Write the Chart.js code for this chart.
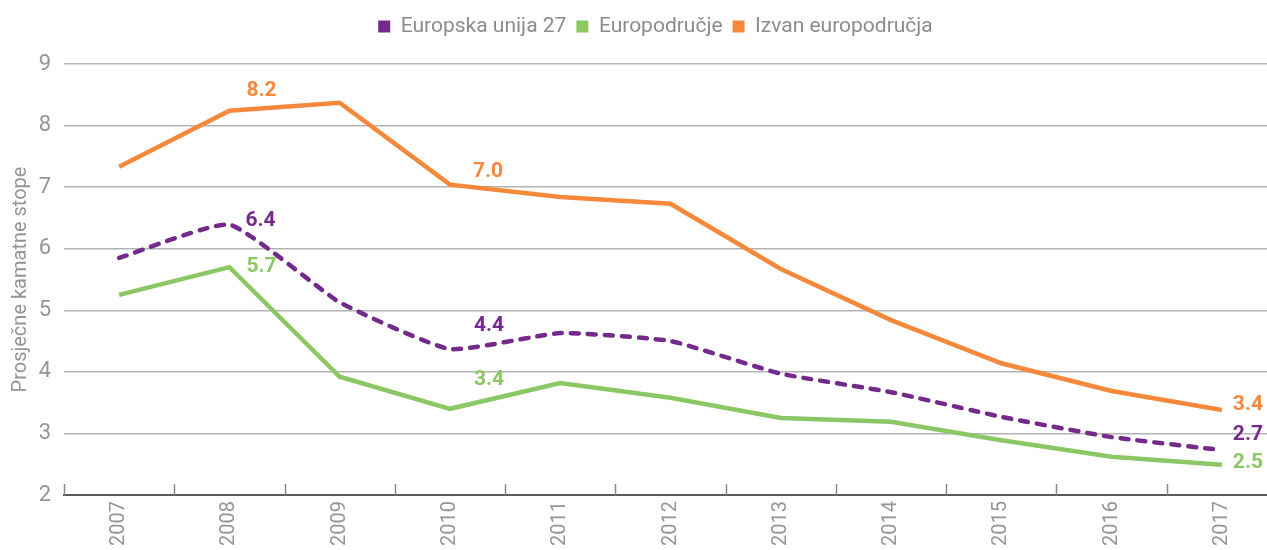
<!DOCTYPE html>
<html>
<head>
<meta charset="utf-8">
<script src="https://cdn.jsdelivr.net/npm/chart.js@4.4.1/dist/chart.umd.min.js"></script>
<style>
html,body{margin:0;padding:0;background:#fff;overflow:hidden;width:1267px;height:550px;}
#wrap{width:1278px;height:550px;}
</style>
</head>
<body>
<div id="wrap"><canvas id="c" width="1278" height="550"></canvas></div>
<script>
const years = ['2007','2008','2009','2010','2011','2012','2013','2014','2015','2016','2017'];
const eu27 = [5.85, 6.39, 5.13, 4.37, 4.63, 4.50, 3.97, 3.67, 3.27, 2.94, 2.73];
const euroArea = [5.25, 5.70, 3.92, 3.40, 3.82, 3.58, 3.25, 3.19, 2.89, 2.62, 2.49];
const nonEuroArea = [7.33, 8.24, 8.37, 7.04, 6.84, 6.73, 5.67, 4.84, 4.14, 3.69, 3.38];
const seriesNames = ['Europska unija 27', 'Europodručje', 'Izvan europodručja'];
const labelledIdx = [1, 3, 10];
const yTicks = [2, 3, 4, 5, 6, 7, 8, 9];
const yTitle = 'Prosječne kamatne stope';

const PURPLE = '#732A8B', GREEN = '#8BC765', ORANGE = '#F5883A';
const GRAY = '#959595';
const FONT = "Roboto, 'Open Sans', sans-serif";

const labelOffsets = [
  [[16,-4],[24,-23],[11,-15]],
  [[17,0],[24,-29],[11,-2]],
  [[17,-20],[23,-13],[11,-5]]
];

const labelPlugin = {
  id: 'pointLabels',
  afterDatasetsDraw(chart) {
    const ctx = chart.ctx;
    ctx.save();
    ctx.font = "bold 21px " + FONT;
    ctx.textAlign = 'left';
    ctx.textBaseline = 'middle';
    chart.data.datasets.forEach((ds, di) => {
      const meta = chart.getDatasetMeta(di);
      labelledIdx.forEach((idx, k) => {
        const el = meta.data[idx];
        const off = labelOffsets[di][k];
        ctx.fillStyle = ds.borderColor;
        ctx.fillText(ds.data[idx].toFixed(1), el.x + off[0], el.y + off[1]);
      });
    });
    ctx.restore();
  }
};

const tickPlugin = {
  id: 'upTicks',
  afterDraw(chart) {
    const xs = chart.scales.x;
    const ctx = chart.ctx;
    const yb = chart.chartArea.bottom;
    ctx.save();
    ctx.strokeStyle = '#8a8a8a';
    ctx.lineWidth = 1.5;
    for (let i = 0; i <= years.length; i++) {
      const x = Math.round(xs.getPixelForValue(i - 0.5)) + 0.5;
      ctx.beginPath();
      ctx.moveTo(x, yb);
      ctx.lineTo(x, yb - 11);
      ctx.stroke();
    }
    ctx.restore();
  }
};

const legendMargin = {
  id: 'legendMargin',
  beforeInit(chart) {
    const fit = chart.legend.fit;
    chart.legend.fit = function () { fit.bind(chart.legend)(); this.height += 17; };
  },
  afterLayout(chart) {
    chart.legend.left += 17;
    chart.legend.right += 17;
  }
};

new Chart(document.getElementById('c'), {
  type: 'line',
  data: {
    labels: years,
    datasets: [
      {label: seriesNames[0], data: eu27, borderColor: PURPLE, backgroundColor: PURPLE,
       borderWidth: 4.5, borderDash: [8, 9], borderCapStyle: 'round', pointRadius: 0, tension: 0.15},
      {label: seriesNames[1], data: euroArea, borderColor: GREEN, backgroundColor: GREEN,
       borderWidth: 4.5, pointRadius: 0, tension: 0},
      {label: seriesNames[2], data: nonEuroArea, borderColor: ORANGE, backgroundColor: ORANGE,
       borderWidth: 4.5, pointRadius: 0, tension: 0}
    ]
  },
  options: {
    responsive: false,
    animation: false,
    devicePixelRatio: 1,
    layout: {padding: {top: 6, right: 1, left: 0, bottom: 0}},
    plugins: {
      legend: {
        position: 'top',
        labels: {
          boxWidth: 12, boxHeight: 12, padding: 10,
          color: '#8c8c8c', font: {family: FONT, size: 21},
          generateLabels(chart) {
            return chart.data.datasets.map((ds, i) => ({
              text: ds.label, fillStyle: ds.borderColor, strokeStyle: ds.borderColor,
              lineWidth: 0, hidden: false, datasetIndex: i, fontColor: '#8c8c8c'
            }));
          }
        },
        onClick: null
      },
      tooltip: {enabled: false}
    },
    scales: {
      x: {
        offset: true,
        grid: {display: true, drawOnChartArea: false, drawTicks: false, offset: true, color: 'rgba(0,0,0,0)'},
        border: {display: true, color: '#5a5a5a', width: 2},
        ticks: {color: GRAY, font: {family: FONT, size: 20}, minRotation: 90, maxRotation: 90, padding: 6},
        afterFit(s) { s.height = 55; }
      },
      y: {
        min: 2, max: 9,
        afterBuildTicks(s) { s.ticks = yTicks.map(v => ({value: v})); },
        grid: {color: '#b3b3b3', lineWidth: 1.5, drawTicks: false},
        border: {display: false},
        ticks: {color: GRAY, font: {family: FONT, size: 22}, padding: 13},
        title: {display: true, text: yTitle, color: GRAY, font: {family: FONT, size: 20}, padding: {top: 9, bottom: 0}},
        afterFit(s) { s.width = 64; }
      }
    }
  },
  plugins: [labelPlugin, tickPlugin, legendMargin]
});
</script>
</body>
</html>
